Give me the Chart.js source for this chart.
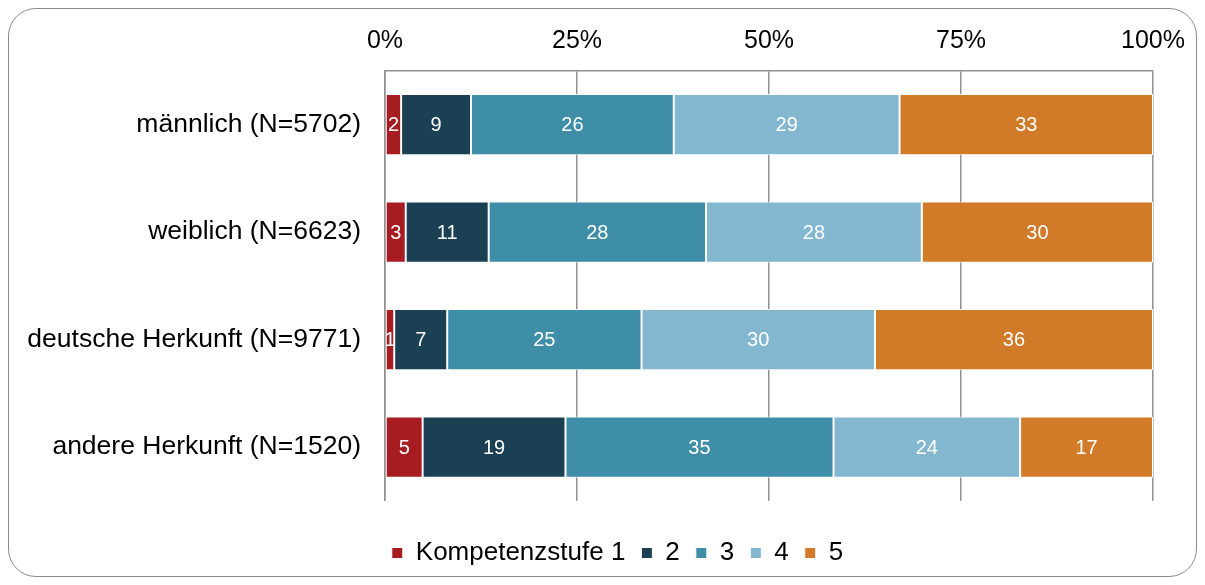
<!DOCTYPE html>
<html>
<head>
<meta charset="utf-8">
<script src="https://cdn.jsdelivr.net/npm/chart.js@4/dist/chart.umd.min.js"></script>
<style>
  html, body { margin: 0; padding: 0; background: #fff; }
  #wrap { position: relative; width: 1205px; height: 585px; }
  #frame { position: absolute; left: 8px; top: 8px; width: 1187px; height: 567px;
           border: 1.5px solid #8a8a8a; border-radius: 28px; box-sizing: content-box; pointer-events: none; }
  canvas { position: absolute; left: 0; top: 0; }
</style>
</head>
<body>
<div id="wrap">
  <canvas id="c" width="1205" height="585"></canvas>
  <div id="frame"></div>
</div>
<script>
const categories = ['männlich (N=5702)', 'weiblich (N=6623)', 'deutsche Herkunft (N=9771)', 'andere Herkunft (N=1520)'];
const seriesNames = ['Kompetenzstufe 1', '2', '3', '4', '5'];
const stufe1 = [2.1, 2.7, 1.2, 4.9];
const stufe2 = [9.1, 10.8, 6.9, 18.6];
const stufe3 = [26.4, 28.3, 25.3, 34.9];
const stufe4 = [29.4, 28.1, 30.4, 24.3];
const stufe5 = [33.0, 30.1, 36.2, 17.3];
const tickLabels = ['0%', '25%', '50%', '75%', '100%'];
const colors = ['#a61c21', '#1b3f53', '#3e8ea8', '#83b7cf', '#d17b28'];

const seriesValues = [stufe1, stufe2, stufe3, stufe4, stufe5];
const FONT = "'Liberation Sans', Arial, sans-serif";

const labelPlugin = {
  id: 'barLabels',
  afterLayout(chart) {
    const lg = chart.legend;
    if (lg) { lg.left += 31; lg.right += 31; }
  },
  afterDatasetsDraw(chart) {
    const ctx = chart.ctx;
    ctx.save();
    ctx.font = '20px ' + FONT;
    ctx.fillStyle = '#ffffff';
    ctx.textAlign = 'center';
    ctx.textBaseline = 'middle';
    chart.data.datasets.forEach((ds, i) => {
      const meta = chart.getDatasetMeta(i);
      meta.data.forEach((el, j) => {
        const v = ds.data[j];
        const p = el.getProps(['x', 'y', 'base'], true);
        const cx = (p.x + p.base) / 2;
        ctx.fillText(String(Math.round(v)), cx, p.y + 1);
      });
    });
    ctx.restore();
  }
};

new Chart(document.getElementById('c'), {
  type: 'bar',
  data: {
    labels: categories,
    datasets: seriesValues.map((vals, i) => ({
      label: seriesNames[i],
      data: vals,
      backgroundColor: colors[i],
      borderColor: '#ffffff',
      borderWidth: 1,
      borderSkipped: false,
      barPercentage: 0.57,
      categoryPercentage: 1
    }))
  },
  options: {
    indexAxis: 'y',
    responsive: false,
    animation: false,
    devicePixelRatio: 1,
    layout: { padding: { left: 20, right: 52, top: 0, bottom: 9 } },
    scales: {
      x: {
        position: 'top',
        stacked: true,
        min: 0, max: 100,
        afterBuildTicks(scale) {
          scale.ticks = tickLabels.map((t, i) => ({ value: i * 25 }));
        },
        afterFit(scale) { scale.height = 71; scale.paddingLeft = 0; scale.paddingRight = 0; },
        ticks: {
          callback: (v, i) => tickLabels[i],
          font: { family: FONT, size: 25 },
          color: '#000',
          padding: 15,
          maxRotation: 0
        },
        grid: { color: '#8f8f8f', lineWidth: 1.5, drawTicks: false, tickLength: 0 },
        border: { display: true, color: '#8f8f8f', width: 1.5 }
      },
      y: {
        stacked: true,
        afterFit(scale) { scale.width = 365; scale.paddingTop = 0; scale.paddingBottom = 0; },
        ticks: {
          font: { family: FONT, size: 26.5 },
          color: '#000',
          padding: 24
        },
        grid: { display: false, drawTicks: false, tickLength: 0 },
        border: { display: true, color: '#8f8f8f', width: 1.5 }
      }
    },
    plugins: {
      tooltip: { enabled: false },
      legend: {
        position: 'bottom',
        title: { display: true, text: '', font: { size: 1 }, padding: { top: 22, bottom: 0 } },
        labels: {
          font: { family: FONT, size: 26 },
          color: '#000',
          boxWidth: 11,
          boxHeight: 11,
          padding: 16
        }
      }
    }
  },
  plugins: [labelPlugin]
});
</script>
</body>
</html>
